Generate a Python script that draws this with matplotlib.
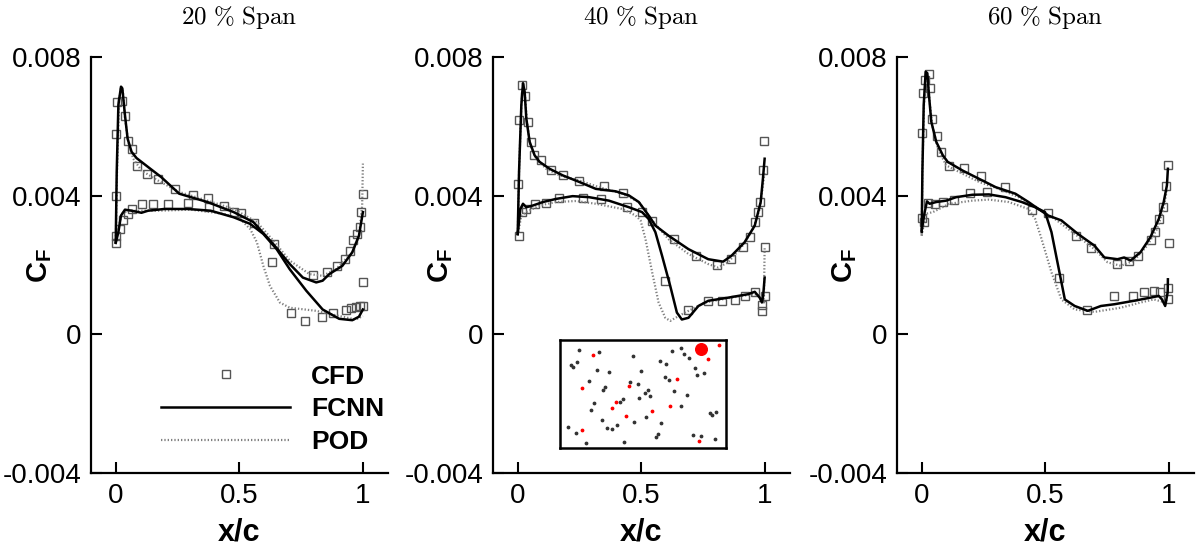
import numpy as np
import matplotlib
matplotlib.use("Agg")
import matplotlib.pyplot as plt

plt.rcParams["font.family"] = ["Liberation Sans", "DejaVu Sans"]
plt.rcParams["mathtext.fontset"] = "custom"
plt.rcParams["mathtext.bf"] = "Liberation Sans:bold"
plt.rcParams["mathtext.rm"] = "Liberation Sans"

# y values below are in units of 1e-3 (C_F)
spans = ["20", "40", "60"]

# ---------------- 20 % span ----------------
cfd20 = np.array([
    (0.0, 5.78), (0.005, 6.70), (0.024, 6.73), (0.037, 6.31), (0.048, 5.58), (0.067, 5.36),
    (0.088, 4.86), (0.128, 4.64), (0.171, 4.49), (0.24, 4.20), (0.311, 4.01), (0.373, 3.93),
    (0.44, 3.70), (0.48, 3.53), (0.508, 3.51), (0.56, 3.21), (0.64, 2.61), (0.631, 2.08),
    (0.708, 0.63), (0.767, 0.39), (0.833, 0.50), (0.797, 1.71), (0.855, 1.81), (0.897, 1.98),
    (0.927, 2.17), (0.947, 2.42), (0.961, 2.71), (0.975, 2.90), (0.987, 3.11), (0.991, 3.53),
    (1.0, 4.04), (1.0, 1.50), (1.0, 0.82), (0.987, 0.82), (0.971, 0.79), (0.951, 0.75),
    (0.931, 0.71), (0.881, 0.61), (0.0, 3.99), (0.0, 2.85), (0.003, 2.64), (0.017, 3.04),
    (0.031, 3.29), (0.048, 3.48), (0.067, 3.62), (0.107, 3.77), (0.151, 3.77), (0.211, 3.77),
    (0.291, 3.79), (0.377, 3.69)])
fcnn20_up = np.array([
    (0.0, 2.66), (0.004, 4.69), (0.0107, 6.62), (0.0213, 7.15), (0.0267, 7.10), (0.0373, 6.33),
    (0.048, 5.65), (0.064, 5.27), (0.084, 5.09), (0.131, 4.83), (0.184, 4.54), (0.257, 4.06),
    (0.371, 3.82), (0.477, 3.53), (0.557, 3.24), (0.637, 2.61), (0.704, 2.03), (0.757, 1.64),
    (0.811, 1.50), (0.837, 1.55), (0.864, 1.74), (0.917, 1.98), (0.957, 2.37), (0.984, 2.85),
    (1.0, 3.53)])
fcnn20_lo = np.array([
    (0.0, 2.64), (0.0107, 2.95), (0.0213, 3.43), (0.0373, 3.60), (0.064, 3.57), (0.104, 3.51),
    (0.131, 3.57), (0.197, 3.62), (0.291, 3.62), (0.384, 3.57), (0.477, 3.38), (0.544, 3.19),
    (0.597, 2.90), (0.651, 2.46), (0.704, 1.88), (0.771, 1.26), (0.837, 0.72), (0.904, 0.45),
    (0.957, 0.41), (0.984, 0.51), (1.0, 0.72)])
pod20_up = np.array([
    (0.0, 2.64), (0.0053, 4.69), (0.0133, 6.72), (0.0213, 7.15), (0.0293, 7.00), (0.0373, 6.23),
    (0.0507, 5.56), (0.0707, 5.07), (0.104, 4.73), (0.171, 4.44), (0.257, 4.11), (0.371, 3.86),
    (0.477, 3.62), (0.571, 3.24), (0.637, 2.71), (0.704, 2.13), (0.784, 1.74), (0.837, 1.69),
    (0.891, 1.88), (0.957, 2.37), (0.984, 2.85), (0.997, 3.72), (1.0, 4.93)])
pod20_lo = np.array([
    (0.0, 2.64), (0.0107, 3.04), (0.024, 3.48), (0.0507, 3.57), (0.171, 3.57), (0.304, 3.60),
    (0.437, 3.48), (0.504, 3.33), (0.544, 3.04), (0.571, 2.66), (0.597, 1.98), (0.624, 1.40),
    (0.664, 0.92), (0.704, 0.77), (0.811, 0.68), (0.904, 0.53), (0.971, 0.43), (1.0, 0.53)])

# ---------------- 40 % span ----------------
cfd40 = np.array([
    (0.0, 4.33), (0.0054, 2.85), (0.0054, 6.18), (0.0187, 7.20), (0.0308, 6.89), (0.0415, 6.14),
    (0.0535, 5.54), (0.0656, 5.19), (0.0924, 5.03), (0.133, 4.75), (0.183, 4.61), (0.246, 4.43),
    (0.351, 4.27), (0.424, 4.09), (0.442, 3.69), (0.501, 3.53), (0.544, 3.26), (0.633, 2.75),
    (0.72, 2.25), (0.807, 2.01), (0.862, 2.19), (0.913, 2.51), (0.94, 2.80), (0.958, 3.24),
    (0.971, 3.53), (0.981, 3.82), (0.992, 4.75), (0.997, 5.57), (1.0, 2.51), (0.999, 1.11),
    (0.987, 0.84), (0.989, 0.68), (0.958, 1.21), (0.918, 1.11), (0.878, 1.00), (0.827, 0.97),
    (0.771, 0.95), (0.688, 0.70), (0.596, 1.53), (0.336, 3.91), (0.266, 3.93), (0.167, 3.95),
    (0.115, 3.80), (0.068, 3.77), (0.035, 3.62), (0.017, 3.53)])
fcnn40_up = np.array([
    (0.0, 2.90), (0.0054, 4.69), (0.0147, 6.62), (0.0214, 7.25), (0.0281, 7.00), (0.0348, 6.23),
    (0.0482, 5.56), (0.0683, 5.17), (0.0884, 4.98), (0.129, 4.78), (0.182, 4.59), (0.249, 4.40),
    (0.316, 4.20), (0.396, 4.13), (0.45, 4.01), (0.49, 3.82), (0.53, 3.43), (0.557, 3.14),
    (0.61, 2.85), (0.691, 2.46), (0.771, 2.17), (0.831, 2.10), (0.865, 2.27), (0.918, 2.66),
    (0.959, 3.14), (0.983, 3.82), (0.992, 4.49), (0.999, 5.07)])
fcnn40_lo = np.array([
    (0.0, 2.90), (0.0107, 3.62), (0.0214, 3.77), (0.0348, 3.67), (0.0616, 3.72), (0.102, 3.82),
    (0.155, 3.91), (0.222, 3.99), (0.289, 3.96), (0.369, 3.86), (0.45, 3.67), (0.503, 3.53),
    (0.53, 3.33), (0.557, 2.95), (0.584, 2.27), (0.617, 1.40), (0.644, 0.63), (0.664, 0.43),
    (0.691, 0.48), (0.731, 0.82), (0.771, 0.97), (0.851, 1.06), (0.932, 1.16), (0.959, 1.23),
    (0.979, 1.06), (0.988, 0.92), (0.993, 1.11), (0.999, 1.64)])
pod40_up = np.array([
    (0.0, 2.85), (0.0054, 4.69), (0.0147, 6.62), (0.0214, 7.20), (0.0294, 6.91), (0.0375, 6.14),
    (0.0509, 5.46), (0.075, 5.07), (0.115, 4.78), (0.169, 4.59), (0.249, 4.44), (0.329, 4.25),
    (0.423, 4.06), (0.49, 3.82), (0.544, 3.29), (0.61, 2.75), (0.691, 2.32), (0.771, 2.03),
    (0.811, 1.93), (0.851, 2.08), (0.905, 2.51), (0.952, 3.04), (0.979, 3.62), (0.992, 4.30),
    (0.999, 4.69)])
pod40_lo = np.array([
    (0.0, 2.85), (0.0147, 3.43), (0.0348, 3.53), (0.0884, 3.72), (0.155, 3.82), (0.236, 3.85),
    (0.316, 3.77), (0.423, 3.62), (0.477, 3.43), (0.497, 3.29), (0.517, 2.75), (0.544, 1.79),
    (0.57, 0.92), (0.597, 0.48), (0.617, 0.39), (0.651, 0.53), (0.691, 0.68), (0.758, 0.92),
    (0.825, 1.01), (0.905, 1.11), (0.959, 1.16), (0.985, 1.11), (0.996, 0.92), (0.999, 2.51)])

# ---------------- 60 % span ----------------
cfd60 = np.array([
    (0.0, 5.80), (0.0053, 6.96), (0.012, 7.34), (0.028, 7.52), (0.0347, 7.10), (0.0427, 6.21),
    (0.0613, 5.72), (0.0787, 5.25), (0.112, 4.85), (0.172, 4.80), (0.24, 4.57), (0.336, 4.25),
    (0.445, 3.58), (0.512, 3.50), (0.625, 2.83), (0.685, 2.48), (0.789, 2.04), (0.837, 2.12),
    (0.875, 2.27), (0.929, 2.71), (0.943, 2.95), (0.959, 3.33), (0.976, 3.67), (0.989, 4.28),
    (0.996, 4.88), (1.0, 2.64), (0.996, 1.35), (0.996, 1.01), (0.965, 1.21), (0.939, 1.26),
    (0.901, 1.21), (0.853, 1.11), (0.777, 1.10), (0.669, 0.71), (0.557, 1.64), (0.263, 4.11),
    (0.197, 4.07), (0.132, 3.89), (0.0853, 3.82), (0.052, 3.77), (0.0253, 3.79), (0.0107, 3.24),
    (0.0, 3.36)])
fcnn60_up = np.array([
    (0.0, 2.95), (0.0027, 4.69), (0.008, 6.62), (0.016, 7.58), (0.0227, 7.54), (0.0293, 6.91),
    (0.0387, 6.14), (0.0587, 5.56), (0.0853, 5.17), (0.105, 4.98), (0.165, 4.73), (0.232, 4.49),
    (0.299, 4.25), (0.379, 4.06), (0.432, 3.82), (0.472, 3.62), (0.512, 3.43), (0.565, 3.29),
    (0.632, 2.90), (0.699, 2.56), (0.739, 2.22), (0.792, 2.17), (0.819, 2.22), (0.845, 2.13),
    (0.885, 2.37), (0.925, 2.80), (0.959, 3.33), (0.979, 3.82), (0.992, 4.30), (0.996, 4.78)])
fcnn60_lo = np.array([
    (0.0, 3.00), (0.012, 3.53), (0.0213, 3.84), (0.032, 3.77), (0.0587, 3.82), (0.0987, 3.86),
    (0.139, 3.96), (0.205, 4.03), (0.272, 4.04), (0.339, 3.96), (0.405, 3.82), (0.459, 3.67),
    (0.499, 3.53), (0.525, 2.95), (0.552, 1.98), (0.579, 1.01), (0.619, 0.82), (0.672, 0.68),
    (0.725, 0.82), (0.779, 0.87), (0.859, 0.97), (0.925, 1.06), (0.959, 1.11), (0.972, 1.01),
    (0.985, 0.82), (0.995, 1.21), (0.996, 1.59)])
pod60_up = np.array([
    (0.0, 2.85), (0.0027, 4.69), (0.0093, 6.62), (0.0173, 7.54), (0.024, 7.44), (0.032, 6.72),
    (0.0427, 6.04), (0.0653, 5.36), (0.0987, 4.88), (0.165, 4.64), (0.232, 4.40), (0.312, 4.20),
    (0.392, 3.96), (0.459, 3.67), (0.539, 3.33), (0.619, 2.90), (0.699, 2.46), (0.752, 2.08),
    (0.805, 1.98), (0.859, 2.13), (0.912, 2.56), (0.952, 3.04), (0.979, 3.62), (0.992, 4.20)])
pod60_lo = np.array([
    (0.0, 2.85), (0.016, 3.48), (0.0453, 3.53), (0.112, 3.77), (0.205, 3.86), (0.272, 3.89),
    (0.352, 3.82), (0.432, 3.62), (0.459, 3.33), (0.485, 2.75), (0.525, 1.79), (0.565, 1.01),
    (0.619, 0.72), (0.699, 0.65), (0.805, 0.77), (0.885, 0.92), (0.939, 1.01), (0.985, 0.92),
    (0.992, 1.01)])

# inset scatter (normalised inset coordinates)
inset_black = np.array([
    (0.115, 0.908), (0.234, 0.886), (0.065, 0.769), (0.077, 0.754), (0.101, 0.797), (0.226, 0.723),
    (0.299, 0.702), (0.438, 0.852), (0.174, 0.625), (0.273, 0.563), (0.259, 0.538), (0.424, 0.609),
    (0.469, 0.597), (0.489, 0.717), (0.206, 0.415), (0.186, 0.354), (0.364, 0.431), (0.378, 0.452),
    (0.477, 0.462), (0.511, 0.514), (0.529, 0.535), (0.541, 0.483), (0.253, 0.255), (0.287, 0.185),
    (0.313, 0.178), (0.347, 0.209), (0.448, 0.240), (0.521, 0.283), (0.610, 0.228), (0.590, 0.126),
    (0.578, 0.102), (0.384, 0.058), (0.158, 0.043), (0.097, 0.138), (0.051, 0.194), (0.602, 0.809),
    (0.642, 0.782), (0.675, 0.898), (0.731, 0.929), (0.747, 0.868), (0.780, 0.837), (0.812, 0.742),
    (0.824, 0.674), (0.865, 0.692), (0.634, 0.658), (0.655, 0.631), (0.687, 0.526), (0.766, 0.495),
    (0.727, 0.391), (0.905, 0.323), (0.917, 0.305), (0.943, 0.335), (0.800, 0.120), (0.851, 0.111),
    (0.931, 0.080)])
inset_red = np.array([
    (0.200, 0.858), (0.133, 0.554), (0.416, 0.578), (0.339, 0.425), (0.317, 0.369), (0.396, 0.298),
    (0.556, 0.345), (0.661, 0.394), (0.707, 0.643), (0.891, 0.825), (0.956, 0.954), (0.133, 0.166),
    (0.836, 0.068)])
inset_big = np.array([(0.851, 0.917)])

panels = [
    (cfd20, fcnn20_up, fcnn20_lo, pod20_up, pod20_lo),
    (cfd40, fcnn40_up, fcnn40_lo, pod40_up, pod40_lo),
    (cfd60, fcnn60_up, fcnn60_lo, pod60_up, pod60_lo),
]

fig = plt.figure(figsize=(11.96, 5.5), dpi=100)
lefts = [0.0761, 0.4122, 0.750]
for i, (cfd, fu, fl, pu, pl) in enumerate(panels):
    ax = fig.add_axes([lefts[i], 0.14, 0.248, 0.756])
    sq, = ax.plot(cfd[:, 0], cfd[:, 1] * 1e-3, ls="none", marker="s", ms=5.5,
                  mfc="none", mec="#555555", mew=1.0, label="CFD")
    pod, = ax.plot(pu[:, 0], pu[:, 1] * 1e-3, color="#808080", lw=1.6,
                   ls=(0, (0.6, 0.9)), label="POD")
    ax.plot(pl[:, 0], pl[:, 1] * 1e-3, color="#808080", lw=1.6, ls=(0, (0.6, 0.9)))
    fc, = ax.plot(fu[:, 0], fu[:, 1] * 1e-3, color="black", lw=1.8, label="FCNN")
    ax.plot(fl[:, 0], fl[:, 1] * 1e-3, color="black", lw=1.8)

    ax.set_xlim(-0.1, 1.1)
    ax.set_ylim(-0.004, 0.008)
    ax.set_xticks([0, 0.5, 1])
    ax.set_xticklabels(["0", "0.5", "1"])
    ax.set_yticks([-0.004, 0, 0.004, 0.008])
    ax.set_yticklabels(["-0.004", "0", "0.004", "0.008"])
    ax.tick_params(direction="in", length=8, width=1.5, labelsize=20, pad=7)
    for s in ["top", "right"]:
        ax.spines[s].set_visible(False)
    for s in ["left", "bottom"]:
        ax.spines[s].set_linewidth(1.6)
    ax.set_xlabel("x/c", fontsize=22, fontweight="bold", labelpad=6)
    ax.set_ylabel(r"$\mathbf{C_F}$", fontsize=21, va="center")
    ax.yaxis.set_label_coords(-0.175, 0.5)
    ax.set_title(r"$\mathrm{" + spans[i] + r"\ \%\ Span}$", fontsize=18,
                 math_fontfamily="cm", pad=24)
    if i == 0:
        ax.legend(handles=[sq, fc, pod], loc="lower left", bbox_to_anchor=(0.2, 0.02),
                  frameon=False, handlelength=4.9, handletextpad=0.8, labelspacing=0.33,
                  borderaxespad=0.0, prop={"family": "Liberation Sans", "weight": "bold", "size": 19})

# inset in middle panel
ins = fig.add_axes([0.468, 0.1855, 0.139, 0.196])
ins.scatter(inset_black[:, 0], inset_black[:, 1], s=3, color="#333333")
ins.scatter(inset_red[:, 0], inset_red[:, 1], s=3, color="red")
ins.scatter(inset_big[:, 0], inset_big[:, 1], s=70, color="red")
ins.set_xlim(0, 1)
ins.set_ylim(0, 1)
ins.set_xticks([])
ins.set_yticks([])
for s in ins.spines.values():
    s.set_linewidth(1.8)

fig.savefig("out.png", dpi=100)
